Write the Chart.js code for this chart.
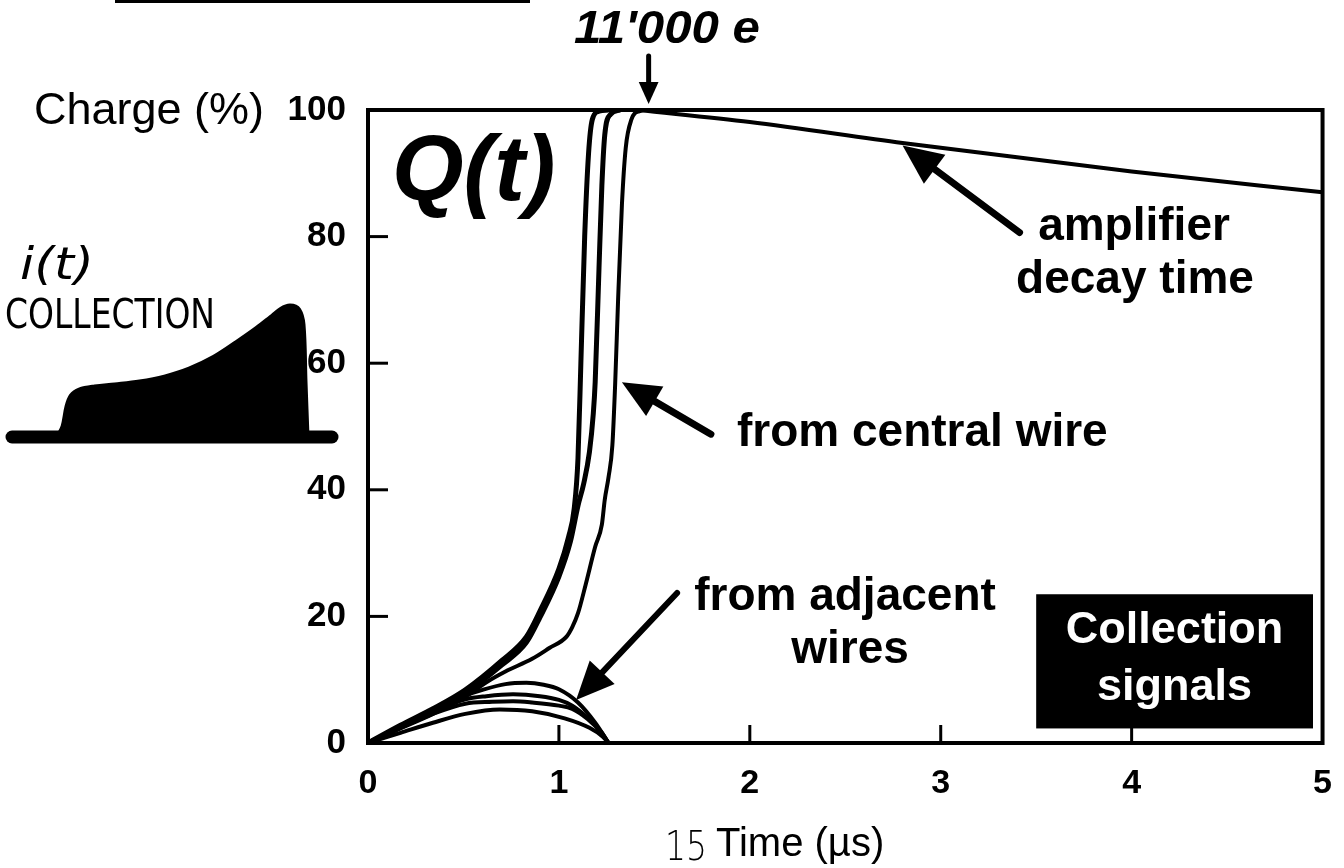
<!DOCTYPE html>
<html>
<head>
<meta charset="utf-8">
<script src="https://cdn.jsdelivr.net/npm/chart.js@4.4.1/dist/chart.umd.min.js"></script>
<style>
  html, body { margin: 0; padding: 0; background: #fff; }
  #wrap { position: relative; width: 1344px; height: 868px; }
  #main { position: absolute; left: 0; top: 0; }
  #pulse { position: absolute; left: 0; top: 290px; }
</style>
</head>
<body>
<div id="wrap">
  <canvas id="main" width="1344" height="868"></canvas>
  <canvas id="pulse" width="340" height="160"></canvas>
</div>
<script>
// axis ticks
const timeTicks = [0, 1, 2, 3, 4, 5];
const chargeTicks = [0, 20, 40, 60, 80, 100];

// charge from the central wire (three traces, A and B run together low down)
const centralA_t = [0, 0.17, 0.34, 0.51, 0.7, 0.83, 0.9, 1.0, 1.05, 1.08, 1.10, 1.115, 1.135, 1.155, 1.175, 1.21, 1.26];
const centralA_q = [0, 2.8, 5.4, 8.4, 13, 16.8, 20.8, 27.5, 32.5, 37, 45, 60, 80, 93, 98.5, 99.8, 100];
const centralB_t = [0, 0.17, 0.34, 0.51, 0.7, 0.83, 0.9, 1.0, 1.06, 1.10, 1.13, 1.16, 1.18, 1.19, 1.21, 1.225, 1.24, 1.27, 1.32];
const centralB_q = [0, 2.5, 5.0, 7.9, 12.3, 15.9, 19.8, 26.3, 31.8, 37.5, 41, 46, 52, 57, 75, 88, 96, 99.3, 100];
const centralC_t = [0, 0.17, 0.34, 0.51, 0.62, 0.72, 0.86, 0.95, 1.04, 1.07, 1.1, 1.14, 1.19, 1.225, 1.24, 1.26, 1.28, 1.295, 1.31, 1.33, 1.35, 1.38, 1.42, 1.48];
const centralC_q = [0, 2.3, 4.6, 7.3, 9.6, 11.3, 13.3, 15, 16.8, 18.3, 20.5, 25, 31, 34.5, 38.4, 42, 47, 57, 70, 85, 94, 98.5, 99.8, 100];

// induced charge on the adjacent wires
const adj1_t = [0, 0.17, 0.34, 0.51, 0.6, 0.72, 0.83, 0.92, 1.0, 1.1, 1.19, 1.26];
const adj1_q = [0, 2.6, 5.2, 7.5, 8.4, 9.3, 9.5, 9.2, 8.5, 6.4, 3.2, 0];
const adj2_t = [0, 0.17, 0.34, 0.51, 0.62, 0.76, 0.9, 1.0, 1.07, 1.15, 1.22, 1.26];
const adj2_q = [0, 2.5, 4.9, 6.9, 7.4, 7.7, 7.4, 6.8, 5.9, 4.0, 1.8, 0];
const adj3_t = [0, 0.17, 0.34, 0.51, 0.65, 0.76, 0.86, 1.0, 1.07, 1.15, 1.22, 1.26];
const adj3_q = [0, 2.4, 4.6, 6.2, 6.5, 6.6, 6.4, 5.9, 5.4, 3.8, 1.7, 0];
const adj4_t = [0, 0.17, 0.34, 0.51, 0.69, 0.86, 1.03, 1.16, 1.23, 1.26];
const adj4_q = [0, 1.6, 3.2, 4.6, 5.3, 5.0, 3.9, 2.4, 1.0, 0];

// amplifier decay after full collection
const decay_t = [1.42, 2, 2.8, 4, 5];
const decay_q = [100, 98.1, 94.8, 90.3, 87];

// sketched current pulse i(t) on the left
const pulse_t = [60, 65, 69, 73, 80, 95, 115, 140, 165, 190, 215, 238, 258, 272, 282, 290, 297, 301, 303, 305];
const pulse_i = [0, 10, 30, 40, 45, 48, 50, 53, 58, 66, 78, 93, 107, 118, 126, 129, 126, 112, 55, 0];
const baseline_t = [12, 332];
const baseline_i = [0, 0];

const FONT = '"Liberation Sans", Arial, Helvetica, sans-serif';
Chart.defaults.font.family = FONT;
Chart.defaults.color = '#000';

function pts(ts, qs) { return ts.map((t, i) => ({ x: t, y: qs[i] })); }
function trace(ts, qs, w) {
  return {
    data: pts(ts, qs), showLine: true, borderColor: '#000', borderWidth: w || 4,
    pointRadius: 0, cubicInterpolationMode: 'monotone', fill: false
  };
}

function arrow(ctx, x1, y1, x2, y2, w, head) {
  const ang = Math.atan2(y2 - y1, x2 - x1);
  const bx = x2 - Math.cos(ang) * head, by = y2 - Math.sin(ang) * head;
  ctx.lineWidth = w;
  ctx.lineCap = 'round';
  ctx.beginPath(); ctx.moveTo(x1, y1); ctx.lineTo(bx, by); ctx.stroke();
  const hw = head * 0.45;
  ctx.beginPath();
  ctx.moveTo(x2, y2);
  ctx.lineTo(bx + Math.sin(ang) * hw, by - Math.cos(ang) * hw);
  ctx.lineTo(bx - Math.sin(ang) * hw, by + Math.cos(ang) * hw);
  ctx.closePath(); ctx.fill();
}

// squeeze hand lettering into the width it takes in the scan
function fitText(ctx, text, x, y, width, font) {
  ctx.save();
  ctx.font = font;
  const k = width / ctx.measureText(text).width;
  ctx.translate(x, y);
  ctx.scale(k, 1);
  ctx.textAlign = 'left';
  ctx.fillText(text, 0, 0);
  ctx.restore();
}

const sketch = {
  id: 'sketch',
  afterDraw(chart) {
    const { ctx, chartArea: a, scales: { x, y } } = chart;
    ctx.save();
    ctx.strokeStyle = '#000'; ctx.fillStyle = '#000';

    // frame + inward ticks
    ctx.lineWidth = 4;
    ctx.strokeRect(a.left, a.top, a.right - a.left, a.bottom - a.top);
    ctx.lineWidth = 3;
    chargeTicks.slice(1, -1).forEach(v => {
      const py = y.getPixelForValue(v);
      ctx.beginPath(); ctx.moveTo(a.left, py); ctx.lineTo(a.left + 20, py); ctx.stroke();
    });
    timeTicks.slice(1, -1).forEach(v => {
      const px = x.getPixelForValue(v);
      ctx.beginPath(); ctx.moveTo(px, a.bottom); ctx.lineTo(px, a.bottom - 18); ctx.stroke();
    });

    // axis titles
    ctx.textBaseline = 'middle';
    ctx.textAlign = 'right';
    ctx.font = '45px ' + FONT;
    ctx.fillText('Charge (%)', 264, y.getPixelForValue(100) + 2);
    ctx.textAlign = 'left';
    ctx.font = '40px ' + FONT;
    ctx.fillText('Time (\u00b5s)', 716, 845);
    fitText(ctx, '15', 665, 850, 42, '300 40px "DejaVu Sans"');

    // hand-written marks
    ctx.font = 'italic bold 92px ' + FONT;
    ctx.fillText('Q(t)', 392, 175);
    fitText(ctx, "11'000 e", 574, 30, 186, 'italic bold 46px ' + FONT);
    fitText(ctx, 'i(t)', 20, 268, 74, 'italic 44px "DejaVu Sans"');
    fitText(ctx, 'COLLECTION', 5, 318, 210, '40px "DejaVu Sans"');

    // remnant rule at top
    ctx.lineWidth = 4;
    ctx.beginPath(); ctx.moveTo(115, 1); ctx.lineTo(530, 1); ctx.stroke();

    // arrows
    const peakX = x.getPixelForValue(1.47);
    arrow(ctx, peakX, 56, peakX, a.top - 6, 5, 22);
    const ampTip = [x.getPixelForValue(2.8), y.getPixelForValue(94.4)];
    arrow(ctx, ampTip[0] + 117, ampTip[1] + 87, ampTip[0], ampTip[1], 7, 40);
    const cenTip = [x.getPixelForValue(1.33), y.getPixelForValue(57)];
    arrow(ctx, cenTip[0] + 89, cenTip[1] + 52, cenTip[0], cenTip[1], 7, 38);
    const adjTip = [x.getPixelForValue(1.09), y.getPixelForValue(6.8)];
    arrow(ctx, adjTip[0] + 101, adjTip[1] - 107, adjTip[0], adjTip[1], 6, 38);

    // annotation labels
    ctx.font = 'bold 46px ' + FONT;
    ctx.textAlign = 'center';
    ctx.fillText('amplifier', 1134, 227);
    ctx.fillText('decay time', 1135, 280);
    ctx.fillText('from adjacent', 845, 597);
    ctx.fillText('wires', 850, 650);
    ctx.textAlign = 'left';
    ctx.fillText('from central wire', 737, 433);

    // black label box
    const bx1 = x.getPixelForValue(3.5), bx2 = x.getPixelForValue(4.95);
    const by1 = y.getPixelForValue(23.5), by2 = y.getPixelForValue(2.3);
    ctx.fillRect(bx1, by1, bx2 - bx1, by2 - by1);
    ctx.fillStyle = '#fff';
    ctx.textAlign = 'center';
    ctx.font = 'bold 45px ' + FONT;
    ctx.fillText('Collection', (bx1 + bx2) / 2, by1 + 36);
    ctx.fillText('signals', (bx1 + bx2) / 2, by1 + 93);
    ctx.restore();
  }
};

new Chart(document.getElementById('main'), {
  type: 'scatter',
  data: {
    datasets: [
      trace(adj4_t, adj4_q), trace(adj3_t, adj3_q), trace(adj2_t, adj2_q), trace(adj1_t, adj1_q),
      trace(centralC_t, centralC_q), trace(centralB_t, centralB_q, 5), trace(centralA_t, centralA_q, 5),
      trace(decay_t, decay_q)
    ]
  },
  options: {
    responsive: false,
    animation: false,
    layout: { padding: { top: 110, right: 16, bottom: 0, left: 0 } },
    plugins: { legend: { display: false }, tooltip: { enabled: false } },
    scales: {
      x: {
        type: 'linear', min: 0, max: 5,
        afterFit: s => { s.height = 125; },
        afterBuildTicks: s => { s.ticks = timeTicks.map(v => ({ value: v })); },
        grid: { display: false }, border: { display: false },
        ticks: { padding: 12, font: { size: 34, weight: 'bold' }, color: '#000' }
      },
      y: {
        min: 0, max: 100,
        afterFit: s => { s.width = 368; },
        afterBuildTicks: s => { s.ticks = chargeTicks.map(v => ({ value: v })); },
        grid: { display: false }, border: { display: false },
        ticks: { padding: 14, font: { size: 35, weight: 'bold' }, color: '#000' }
      }
    }
  },
  plugins: [sketch]
});

new Chart(document.getElementById('pulse'), {
  type: 'scatter',
  data: {
    datasets: [
      {
        data: pts(baseline_t, baseline_i), showLine: true, borderColor: '#000',
        borderWidth: 13, borderCapStyle: 'round', pointRadius: 0
      },
      {
        data: pts(pulse_t, pulse_i), showLine: true, borderColor: '#000', backgroundColor: '#000',
        borderWidth: 9, borderJoinStyle: 'round', pointRadius: 0, tension: 0.35, fill: 'origin'
      }
    ]
  },
  options: {
    responsive: false,
    animation: false,
    layout: { padding: 0 },
    plugins: { legend: { display: false }, tooltip: { enabled: false } },
    scales: {
      x: { type: 'linear', display: false, min: 0, max: 340 },
      y: { display: false, min: -13, max: 147 }
    }
  }
});
</script>
</body>
</html>
